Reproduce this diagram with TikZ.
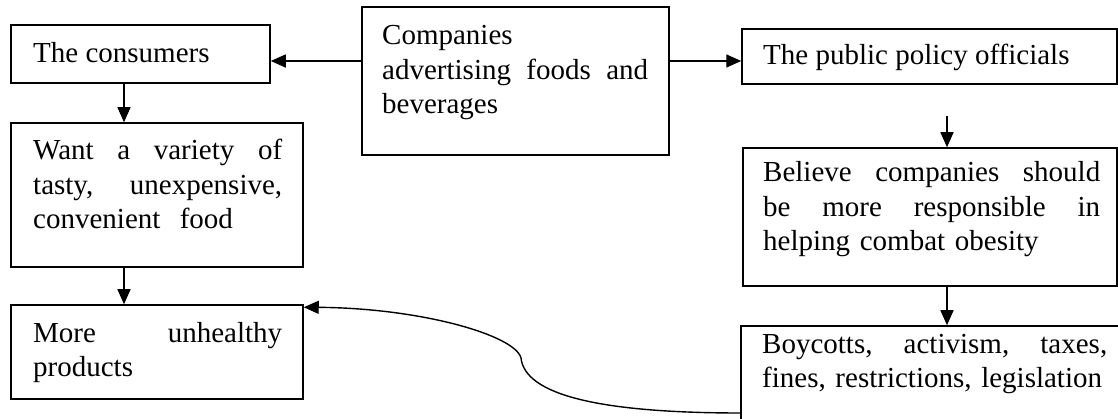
\documentclass[tikz,border=0pt]{standalone}
\usepackage{fontspec}
\setmainfont{Liberation Serif}
\usetikzlibrary{arrows.meta}
\begin{document}
\begin{tikzpicture}[x=1pt,y=-1pt,
  box/.style={draw, line width=1.5pt, rectangle, inner sep=0pt, anchor=center},
  txt/.style={anchor=base west, inner sep=0pt, align=left, font=\fontsize{29}{34.5}\selectfont},
  arr/.style={line width=1.4pt, -{Triangle[length=15pt,width=13pt]}}]
\useasboundingbox (0,0) rectangle (1118,419);
% boxes
\node[box, minimum width=259pt, minimum height=58pt] (cons) at (140.5,54) {};
\node[box, minimum width=307pt, minimum height=148pt] (comp) at (515.5,81) {};
\node[box, minimum width=375pt, minimum height=55pt] (pub) at (929.5,56.5) {};
\node[box, minimum width=292pt, minimum height=144pt] (want) at (157,195) {};
\node[box, minimum width=374pt, minimum height=138pt] (bel) at (930,217) {};
\node[box, minimum width=292pt, minimum height=94pt] (more) at (157,352) {};
\node[box, minimum width=389pt, minimum height=114pt] (boy) at (935.5,383) {};
% texts
\node[txt] (tcons) at (33,63) {The consumers};
\node[txt, text width=266pt] (tcomp) at (382,45) {Companies\\advertising\hfill foods\hfill and\\beverages};
\node[txt] (tpub) at (763,65) {The public policy officials};
\node[txt, text width=249pt] (twant) at (33,160) {Want\hfill a\hfill variety\hfill of\\tasty,\hfill unexpensive,\\convenient\ \ food};
\node[txt, text width=337pt] (tbel) at (763,182) {Believe\hfill companies\hfill should\\be\hfill more\hfill responsible\hfill in\\helping combat obesity};
\node[txt, text width=249pt] (tmore) at (33,342) {More\hfill unhealthy\\products};
\node[txt, text width=345pt] (tboy) at (762,353) {Boycotts,\hfill activism,\hfill taxes,\\fines, restrictions, legislation};
% connectors
\draw[arr] (comp.west |- 0,61) -- (cons.east |- 0,61);
\draw[arr] (comp.east |- 0,61) -- (pub.west |- 0,61);
\draw[arr] (cons.south -| 124,0) -- (want.north -| 124,0);
\draw[arr] (want.south -| 124,0) -- (more.north -| 124,0);
\coordinate (pstart) at (947,116);
\draw[arr] (pstart) -- (bel.north -| pstart);
\draw[arr] (bel.south -| pstart) -- (boy.north -| pstart);
\coordinate (cstart) at (741,413);
\coordinate (cmid) at (521,358);
\draw[arr] (cstart) .. controls (600,413) and (525,395) .. (cmid)
  .. controls (515,335) and (420,308) .. ([yshift=-3pt]more.north east);
\end{tikzpicture}
\end{document}
